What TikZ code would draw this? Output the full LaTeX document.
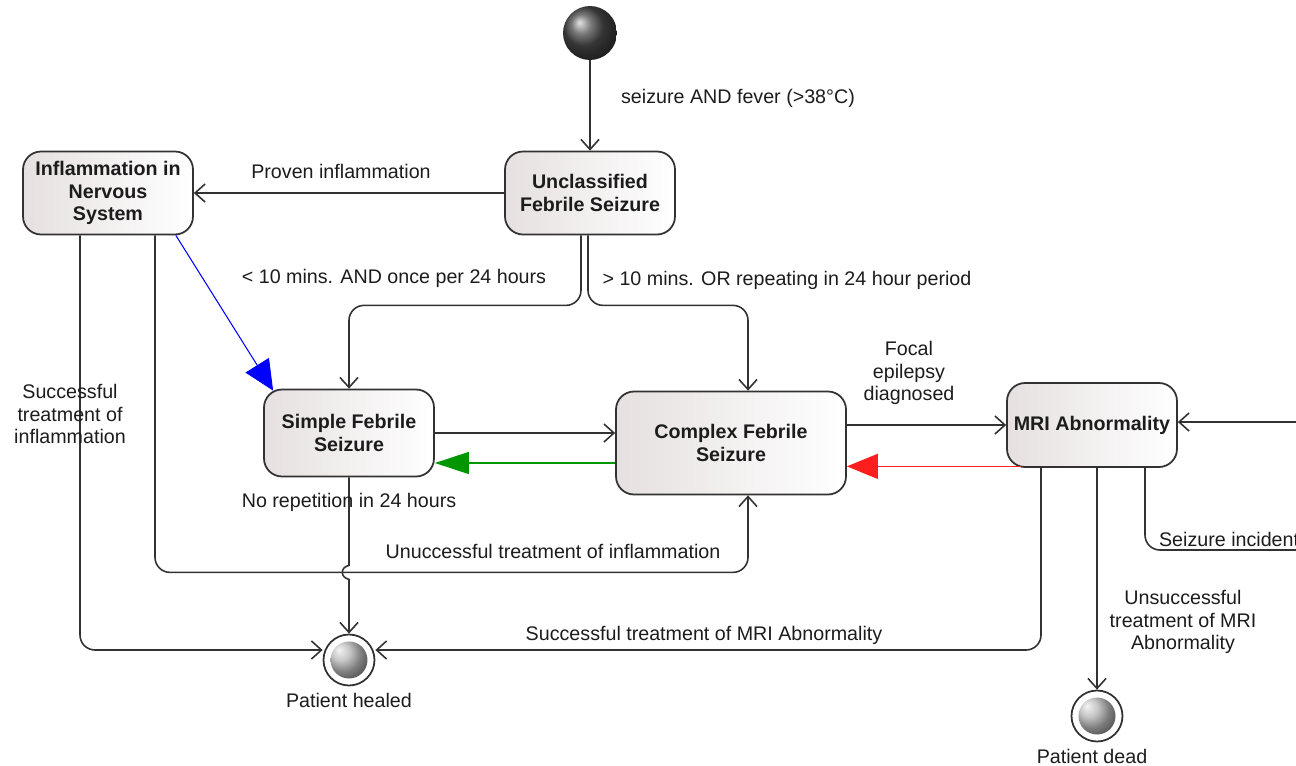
\documentclass[tikz,border=0pt]{standalone}
\usepackage{fontspec}
\setmainfont{Liberation Sans}
\usepackage{xcolor}
\usetikzlibrary{arrows.meta,calc}
\definecolor{boxgray}{RGB}{230,224,224}
\definecolor{linegray}{RGB}{50,50,50}
\definecolor{txtgray}{RGB}{28,28,28}
\definecolor{arrgreen}{RGB}{0,150,0}
\definecolor{arrred}{RGB}{255,30,30}
\tikzset{
	statebox/.style={draw=linegray, line width=1pt, rounded corners=0.36cm, left color=boxgray, right color=white, minimum width=3.4cm, minimum height=1.66cm, align=center, inner sep=2pt, font=\fontsize{11.2}{12.6}\selectfont\bfseries, text=txtgray},
	trans/.style={draw=linegray, line width=0.9pt, -{Straight Barb[length=2mm,width=3.6mm]}},
	lbl/.style={font=\fontsize{11.2}{12.6}\selectfont, text=txtgray, align=center, inner sep=1pt},
	startdot/.style={circle, minimum size=1.08cm, inner sep=0pt, ball color=black!70},
	enddot/.style={circle, draw=linegray, line width=1pt, fill=white, minimum size=1.02cm, inner sep=0pt, path picture={\shade[ball color=gray!60] (path picture bounding box.center) circle (0.37cm);}}
}
\begin{document}
\begin{tikzpicture}[x=0.02cm, y=-0.02cm]
		\useasboundingbox (0,0) rectangle (1296,765);
		% states
		\node [startdot] (init) at (590,33) {};
		\node [statebox] (unclass) at (590,193) {Unclassified\\Febrile Seizure};
		\node [statebox] (inflam) at (108,193) {Inflammation in\\Nervous\\System};
		\node [statebox, minimum height=1.74cm] (simple) at (349,433) {Simple Febrile\\Seizure};
		\node [statebox, minimum width=4.6cm, minimum height=2.06cm] (complex) at (731,443) {Complex Febrile\\Seizure};
		\node [statebox, minimum height=1.68cm] (mri) at (1092,425) {MRI Abnormality};
		\node [enddot] (healed) at (349,660) {};
		\node [enddot] (dead) at (1097,716) {};
		\node [lbl] (healedtxt) at (349,700) {Patient healed};
		\node [lbl] (deadtxt) at (1092,756) {Patient dead};
		\coordinate (offin) at (1320,422);
		\coordinate (offout) at (1320,550);
		% transitions
		\draw [trans] (init) -- (unclass.north);
		\draw [trans] (unclass.west) -- (inflam.east);
		\draw [trans, rounded corners=0.3cm] ([xshift=-0.18cm]unclass.south) -- ++(0,70) -| (simple.north);
		\draw [trans, rounded corners=0.3cm] ([xshift=-0.04cm]unclass.south) -- ++(0,70) -| ([xshift=0.34cm]complex.north);
		\draw [line width=0.6pt, blue, -{Triangle[length=6mm,width=5.5mm]}] ([xshift=-0.36cm]inflam.south east) -- ([xshift=0.2cm,yshift=-0.04cm]simple.north west);
		\draw [trans, rounded corners=0.3cm] ([xshift=-0.56cm]inflam.south) |- ([yshift=0.2cm]healed.west);
		\draw [trans, rounded corners=0.3cm] ([xshift=0.94cm]inflam.south) -- ++(0,337) -| ([xshift=0.34cm]complex.south);
		\draw [trans] (simple.south) -- ($(simple.south)+(0,88)$) .. controls +(-9,2) and +(-9,-2) .. ($(simple.south)+(0,102)$) -- (healed.north);
		\draw [trans] (simple.east) -- (simple.east -| complex.west);
		\coordinate (gstart) at ([yshift=-0.4cm]complex.west);
		\draw [line width=0.7pt, arrgreen, -{Triangle[length=6.8mm,width=4.4mm]}] (gstart) -- (gstart -| simple.east);
		\draw [trans] (complex.east |- mri.west) -- (mri.west);
		\coordinate (rstart) at ([xshift=0.3cm,yshift=0.03cm]mri.south west);
		\draw [line width=0.8pt, arrred, -{Triangle[length=6.2mm,width=5mm]}] (rstart) -- (rstart -| complex.east);
		\draw [trans, rounded corners=0.3cm] ([xshift=-1.02cm]mri.south) |- ([yshift=0.2cm]healed.east);
		\draw [trans] (mri.south -| dead.north) -- (dead.north);
		\draw [line width=0.9pt, linegray, rounded corners=0.3cm] ([xshift=1.06cm]mri.south) |- (offout);
		\draw [trans] (offin) -- (offin -| mri.east);
		% labels
		\node [lbl] (lfever) at (738,98) {seizure AND fever (>38°C)};
		\node [lbl] (lproven) at (341,171) {Proven inflammation};
		\node [lbl] (lless) at (394,278) {< 10 mins. AND once per 24 hours};
		\node [lbl] (lmore) at (787,280) {> 10 mins. OR repeating in 24 hour period};
		\node [lbl] (lfocal) at (909,373) {Focal\\epilepsy\\diagnosed};
		\node [lbl] (lsuccinf) at (70,414) {Successful\\treatment of\\inflammation};
		\node [lbl] (lnorep) at (349,502) {No repetition in 24 hours};
		\node [lbl] (lunsuccinf) at (553,551) {Unuccessful treatment of inflammation};
		\node [lbl] (lsuccmri) at (704,635) {Successful treatment of MRI Abnormality};
		\node [lbl] (lunsuccmri) at (1183,622) {Unsuccessful\\treatment of MRI\\Abnormality};
		\node [lbl, anchor=west] (lincident) at (1157,539) {Seizure incident};
\end{tikzpicture}
\end{document}
